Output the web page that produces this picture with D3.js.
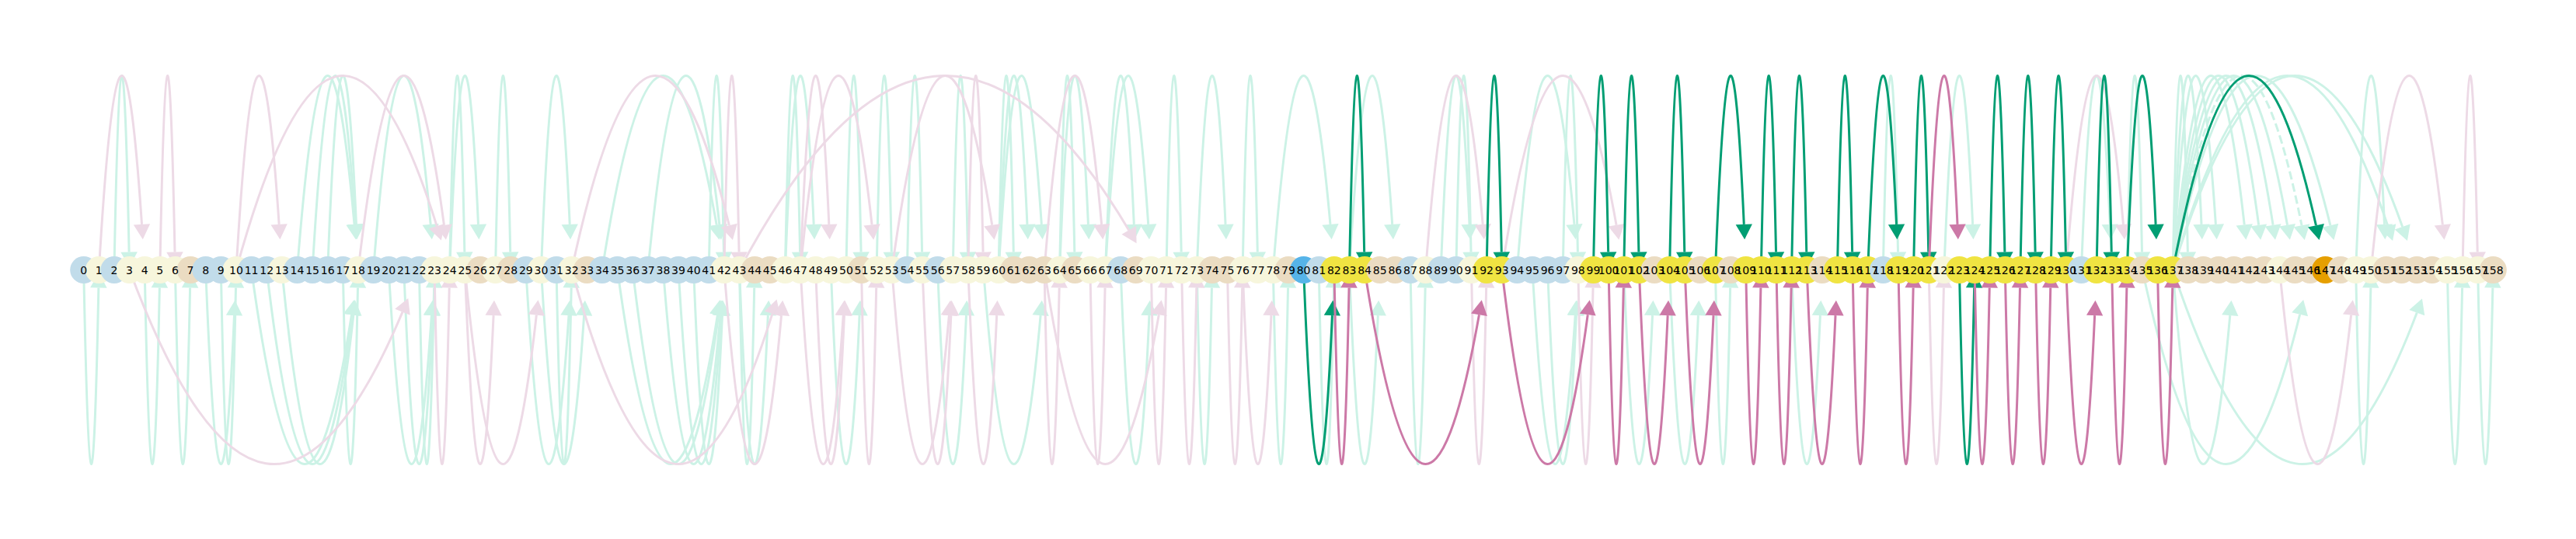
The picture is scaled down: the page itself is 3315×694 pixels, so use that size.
<!DOCTYPE html>
<html>
<head>
<meta charset="utf-8">
<script src="https://cdn.jsdelivr.net/npm/d3@7"></script>
<style>
  body { margin: 0; background: #fff; }
  svg { display: block; }
</style>
</head>
<body>
<div id="chart"></div>
<script>
// node groups, one code per node 0..158
// b = faded blue, y = faded yellow, t = faded orange, Y/B/O = highlighted
var nodeGroup = ("bybyyyytbb" + "ybbybbbbyb" + "bbbyyytytb" + "ybytbbbbbb" +
                 "bbyyttyyyy" + "ytyybybyyy" + "ytttytyybt" + "yyyyttyyyt" +
                 "BbYYYttbyb" + "byYYbbbbyY" + "YYYtYYtYtY" + "YYYYtYYYbY" +
                 "YYyYYYYYYY" + "YbYYYtYYtt" + "ttttyttOty" + "yttttyyyt").split("");

// edges [source, target], split by colour and side of the axis
var fadedGreenAbove = [[2,3],[14,18],[15,18],[16,18],[19,23],[24,25],[24,26],[27,28],
  [30,32],[34,42],[37,42],[41,42],[46,47],[46,48],[50,51],
  [52,53],[54,55],[57,58],[60,61],[60,62],[60,63],[64,65],[64,66],[67,69],[67,70],
  [71,72],[73,75],[76,77],[78,82],[83,86],[89,91],[90,91],[94,98],[97,98],
  [118,119],[122,124],[131,133],[134,135],
  [137,138],[137,139],[137,140],[137,142],[137,143],[137,144],[137,145],[137,148],
  [137,152],[137,153],[149,151]];
var fadedGreenDashed = [[137,146]];
var fadedPinkAbove = [[1,4],[5,6],[10,13],[10,24],[18,24],[32,43],[42,43],[43,70],
  [47,49],[47,52],[53,60],[58,59],[63,67],[88,92],[93,101],[130,134],[150,155],[156,157]];
var greenAbove = [[83,84],[92,93],[99,100],[101,102],[104,105],[107,109],[110,111],
  [112,113],[115,116],[117,119],[120,121],[125,126],[127,128],[129,130],[132,133],
  [134,136],[137,147]];
var pinkAbove = [[121,123]];

var fadedGreenBelow = [[0,1],[4,5],[6,7],[8,10],[9,10],[11,18],[12,18],[13,18],[17,18],
  [20,23],[21,23],[22,23],[29,32],[30,33],[31,32],[35,42],[36,42],[38,42],[39,42],[40,42],
  [43,44],[43,45],[49,51],[56,58],[59,63],[68,70],[73,74],[78,79],[81,82],[83,85],
  [87,88],[95,98],[96,98],[101,103],[104,106],[107,108],[112,114],
  [135,146],[137,141],[137,154],[149,150],[155,156],[157,158]];
var fadedPinkBelow = [[3,22],[23,24],[25,27],[25,30],[32,46],[42,46],[47,50],[48,50],
  [51,52],[53,57],[55,57],[58,60],[63,64],[63,71],[66,67],[70,71],[72,73],[75,76],
  [76,78],[91,92],[98,99],[121,122],[144,149]];
var greenBelow = [[80,82],[123,124]];
var pinkBelow = [[82,83],[84,92],[93,99],[100,101],[102,104],[105,107],[109,110],
  [111,112],[113,115],[116,117],[119,120],[124,125],[126,127],[128,129],[130,132],
  [133,134],[136,137]];

var width = 3315, height = 694;
var rowY = 347.5, arcH = 250, nodeR = 17.5;
var headLen = 19, headHalf = 10.5;

var nodeFill = {
  b: "#c1dcea", y: "#f7f6dc", t: "#ebdcc2",
  Y: "#f0e442", B: "#56b4e9", O: "#e69f00"
};

var x = d3.scaleLinear().domain([0, nodeGroup.length - 1]).range([107.7, 3208.3]);

var svg = d3.select("#chart").append("svg")
    .attr("width", width)
    .attr("height", height);

svg.append("rect").attr("width", width).attr("height", height).attr("fill", "#fff");

function bez(p0, p1, p2, u) {
  var a = (1 - u) * (1 - u), b = 2 * (1 - u) * u, c = u * u;
  return [a * p0[0] + b * p1[0] + c * p2[0], a * p0[1] + b * p1[1] + c * p2[1]];
}
function dist(a, b) { return Math.hypot(a[0] - b[0], a[1] - b[1]); }

// parabola from source to target with a constant apex height, cut back for the head
function geom(e, side) {
  var s = e[0], t = e[1], dir = side === "above" ? -1 : 1;
  var p0 = [x(s), rowY], p2 = [x(t), rowY];
  var p1 = [(p0[0] + p2[0]) / 2, rowY + dir * 2 * arcH];
  var gap = Math.abs(t - s) === 1 ? 3 : 39;
  var u = 1, tip;
  while (u > 0) { tip = bez(p0, p1, p2, u); if (dist(tip, p2) >= gap) break; u -= 0.0005; }
  var v = u, base;
  while (v > 0) { base = bez(p0, p1, p2, v); if (dist(base, tip) >= headLen) break; v -= 0.0005; }
  var c = [p0[0] + (p1[0] - p0[0]) * v, p0[1] + (p1[1] - p0[1]) * v];
  var dx = (tip[0] - base[0]) / headLen, dy = (tip[1] - base[1]) / headLen;
  var line = "M" + p0[0] + "," + p0[1] + "Q" + c[0] + "," + c[1] + " " + base[0] + "," + base[1];
  var head = "M" + tip[0] + "," + tip[1] +
    "L" + (base[0] - dy * headHalf) + "," + (base[1] + dx * headHalf) +
    "L" + (base[0] + dy * headHalf) + "," + (base[1] - dx * headHalf) + "Z";
  return { line: line, head: head };
}

function drawEdges(list, side, color, dashed) {
  var g = svg.append("g");
  var items = list.map(function(e) { return geom(e, side); });
  g.selectAll("path.line").data(items).enter().append("path")
      .attr("class", "line")
      .attr("d", function(d) { return d.line; })
      .attr("fill", "none")
      .attr("stroke", color)
      .attr("stroke-width", 3)
      .attr("stroke-dasharray", dashed ? "11,5" : null);
  g.selectAll("path.head").data(items).enter().append("path")
      .attr("class", "head")
      .attr("d", function(d) { return d.head; })
      .attr("fill", color);
}

var fadedGreen = "#ccf2e6", fadedPink = "#eddae6", green = "#009e73", pink = "#cc79a7";

drawEdges(fadedGreenAbove, "above", fadedGreen);
drawEdges(fadedGreenDashed, "above", fadedGreen, true);
drawEdges(fadedGreenBelow, "below", fadedGreen);
drawEdges(fadedPinkAbove, "above", fadedPink);
drawEdges(fadedPinkBelow, "below", fadedPink);
drawEdges(greenAbove, "above", green);
drawEdges(greenBelow, "below", green);
drawEdges(pinkAbove, "above", pink);
drawEdges(pinkBelow, "below", pink);

var nodes = nodeGroup.map(function(g, i) { return { id: i, group: g }; });

svg.append("g").selectAll("circle").data(nodes).enter().append("circle")
    .attr("cx", function(d) { return x(d.id); })
    .attr("cy", rowY)
    .attr("r", nodeR)
    .attr("fill", function(d) { return nodeFill[d.group]; });

svg.append("g").selectAll("text").data(nodes).enter().append("text")
    .attr("x", function(d) { return x(d.id); })
    .attr("y", rowY)
    .attr("text-anchor", "middle")
    .attr("dominant-baseline", "central")
    .attr("font-family", "DejaVu Sans, sans-serif")
    .attr("font-size", "14px")
    .attr("fill", "#000")
    .text(function(d) { return d.id; });
</script>
</body>
</html>
